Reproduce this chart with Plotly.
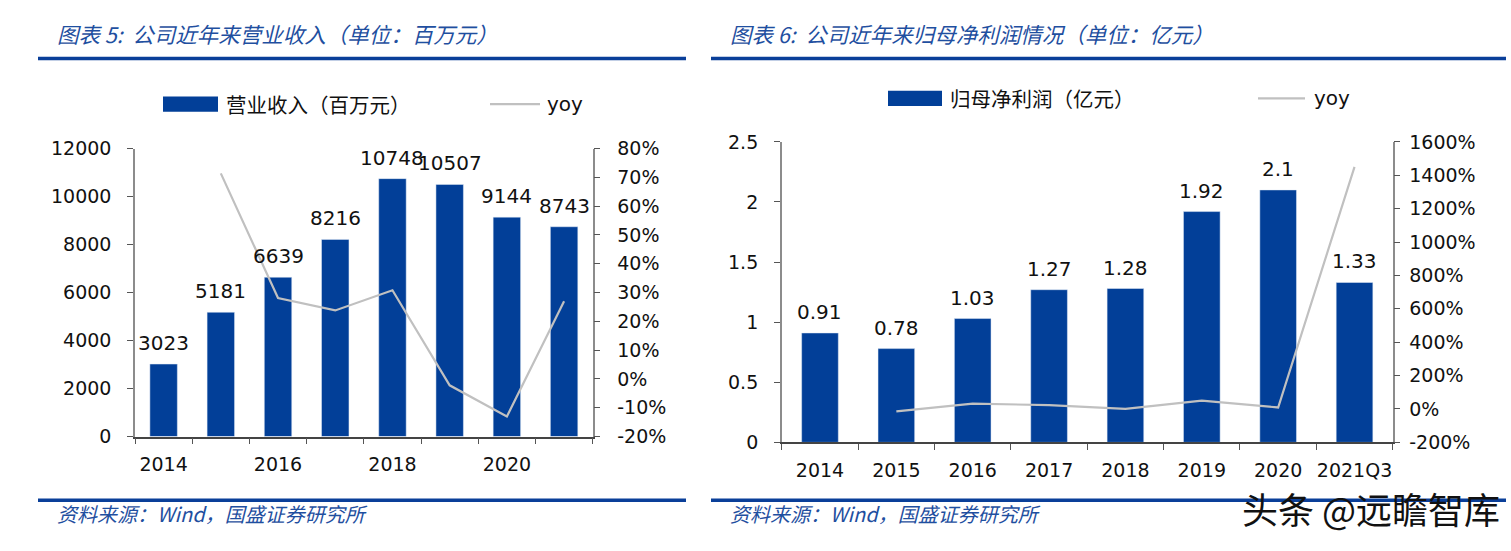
import plotly.graph_objects as go

# ---------------- data ----------------
rev_years = ["2014", "2015", "2016", "2017", "2018", "2019", "2020", "2021"]
rev_values = [3023, 5181, 6639, 8216, 10748, 10507, 9144, 8743]
rev_yoy_years = ["2015", "2016", "2017", "2018", "2019", "2020", "2021"]
rev_yoy = [71.4, 28.1, 23.8, 30.8, -2.2, -13.0, 27.0]
rev_yoy_ticks = [-20, -10, 0, 10, 20, 30, 40, 50, 60, 70, 80]

np_years = ["2014", "2015", "2016", "2017", "2018", "2019", "2020", "2021Q3"]
np_values = [0.91, 0.78, 1.03, 1.27, 1.28, 1.92, 2.1, 1.33]
np_yoy_years = ["2015", "2016", "2017", "2018", "2019", "2020", "2021Q3"]
np_yoy = [-14, 32, 23, 1, 50, 9, 1450]
np_yoy_ticks = [-200, 0, 200, 400, 600, 800, 1000, 1200, 1400, 1600]

title_left = "图表 5:  公司近年来营业收入（单位：百万元）"
title_right = "图表 6:  公司近年来归母净利润情况（单位：亿元）"
legend_left = ["营业收入（百万元）", "yoy"]
legend_right = ["归母净利润（亿元）", "yoy"]
source_text = "资料来源：Wind，国盛证券研究所"
watermark = "头条 @远瞻智库"

# ---------------- style ----------------
W, H = 1511, 551
BAR = "#023F98"
LINE = "#C0C0C0"
BLUE_T = "#1F4FA0"
AX = "#8C8C8C"
NUMF = "DejaVu Sans, Verdana, sans-serif"
CJK = "Noto Sans CJK SC"


def px(x):
    return x / W


def py(y):
    return 1 - y / H


def pct_text(vals):
    return [f"{v}%" for v in vals]


fig = go.Figure()

# left chart
fig.add_trace(go.Bar(x=rev_years, y=rev_values, marker_color=BAR, width=0.48,
                     xaxis="x", yaxis="y", showlegend=False))
fig.add_trace(go.Scatter(x=rev_yoy_years, y=rev_yoy, mode="lines",
                         line=dict(color=LINE, width=2.2), xaxis="x", yaxis="y2",
                         showlegend=False))
# right chart
fig.add_trace(go.Bar(x=np_years, y=np_values, marker_color=BAR, width=0.48,
                     xaxis="x2", yaxis="y3", showlegend=False))
fig.add_trace(go.Scatter(x=np_yoy_years, y=np_yoy, mode="lines",
                         line=dict(color=LINE, width=2.2), xaxis="x2", yaxis="y4",
                         showlegend=False))

tickfont = dict(family=NUMF, size=19, color="#111")
common_y = dict(showgrid=False, zeroline=False, showline=True, linecolor=AX, linewidth=1.5,
                ticks="outside", ticklen=6, tickcolor="#555", tickfont=tickfont)
common_x = dict(type="category", showgrid=False, showline=True, linecolor="#444",
                linewidth=1.5, ticks="outside", ticklen=6, tickcolor="#555",
                tickson="boundaries", tickfont=tickfont, ticklabelstandoff=10, tickangle=0,
                autorange=False)

L = (135, 592.7, 143.3, 443.3)
R = (781.8, 1392.7, 136.3, 449.3)

fig.update_layout(
    width=W, height=H, margin=dict(l=0, r=0, t=0, b=0),
    paper_bgcolor="white", plot_bgcolor="white",
    xaxis=dict(**common_x, domain=[px(L[0]), px(L[1])], anchor="y",
               range=[-0.5, len(rev_years) - 0.5],
               tickvals=rev_years,
               ticktext=[y if i % 2 == 0 else "" for i, y in enumerate(rev_years)]),
    yaxis=dict(**common_y, domain=[py(L[3]), py(L[2])], anchor="x",
               range=[0, 12000], dtick=2000, tickformat="d", ticklabelstandoff=12),
    yaxis2=dict(**common_y, overlaying="y", side="right", anchor="x",
                range=[rev_yoy_ticks[0], rev_yoy_ticks[-1]], tickmode="array",
                tickvals=rev_yoy_ticks, ticktext=pct_text(rev_yoy_ticks),
                ticklabelstandoff=13),
    xaxis2=dict(**common_x, domain=[px(R[0]), px(R[1])], anchor="y3",
                range=[-0.5, len(np_years) - 0.5]),
    yaxis3=dict(**common_y, domain=[py(R[3]), py(R[2])], anchor="x2",
                range=[0, 2.5], dtick=0.5, ticklabelstandoff=12),
    yaxis4=dict(**common_y, overlaying="y3", side="right", anchor="x2",
                range=[np_yoy_ticks[0], np_yoy_ticks[-1]], tickmode="array",
                tickvals=np_yoy_ticks, ticktext=pct_text(np_yoy_ticks),
                ticklabelstandoff=5),
)

shapes = []
annotations = []

# value labels above bars (placed through the data axes; x = category index)
for xs, ys, xr, yr, fmt in [(rev_years, rev_values, "x", "y", str),
                            (np_years, np_values, "x2", "y3", lambda v: f"{v:g}")]:
    for i, yv in enumerate(ys):
        annotations.append(dict(text=fmt(yv), x=i, y=yv, xref=xr, yref=yr,
                                yanchor="middle", yshift=21, showarrow=False,
                                font=dict(family=NUMF, size=20, color="#111")))

# titles, separators, sources
for x0, x1, tx, title in [(38, 686, 55, title_left), (711, 1506, 728, title_right)]:
    shapes.append(dict(type="line", xref="paper", yref="paper", x0=px(x0), x1=px(x1),
                       y0=py(49.5), y1=py(49.5), line=dict(color="#0A3F99", width=3.5)))
    shapes.append(dict(type="line", xref="paper", yref="paper", x0=px(x0), x1=px(x1),
                       y0=py(509.5), y1=py(509.5), line=dict(color="#0A3F99", width=3.5)))
    annotations.append(dict(text=title, xref="paper", yref="paper", x=px(tx), y=py(23),
                            xanchor="left", yanchor="middle", showarrow=False,
                            font=dict(family=CJK, size=21.5, color=BLUE_T, style="italic")))
    annotations.append(dict(text=source_text, xref="paper", yref="paper", x=px(tx), y=py(523),
                            xanchor="left", yanchor="middle", showarrow=False,
                            font=dict(family=CJK, size=20, color=BLUE_T, style="italic")))

# manual legends
for (rx0, rx1, ry, tx, lx0, lx1, yx, labels) in [
        (163, 218, 97, 224, 490, 540, 545, legend_left),
        (888, 942, 91, 948, 1258, 1305, 1312, legend_right)]:
    shapes.append(dict(type="rect", xref="paper", yref="paper", x0=px(rx0), x1=px(rx1),
                       y0=py(ry + 8), y1=py(ry - 8), fillcolor=BAR, line=dict(width=0)))
    shapes.append(dict(type="line", xref="paper", yref="paper", x0=px(lx0), x1=px(lx1),
                       y0=py(ry), y1=py(ry), line=dict(color=LINE, width=2.2)))
    annotations.append(dict(text=labels[0], xref="paper", yref="paper", x=px(tx), y=py(ry),
                            xanchor="left", yanchor="middle", showarrow=False,
                            font=dict(family=CJK, size=20.5, color="#111")))
    annotations.append(dict(text=labels[1], xref="paper", yref="paper", x=px(yx), y=py(ry),
                            xanchor="left", yanchor="middle", showarrow=False,
                            font=dict(family=NUMF, size=20, color="#111")))

annotations.append(dict(text=watermark, xref="paper", yref="paper", x=px(1502), y=py(518),
                        xanchor="right", yanchor="middle", showarrow=False,
                        font=dict(family=CJK, size=36, color="#111")))

fig.update_layout(shapes=shapes, annotations=annotations)
fig.write_html("out.html")
